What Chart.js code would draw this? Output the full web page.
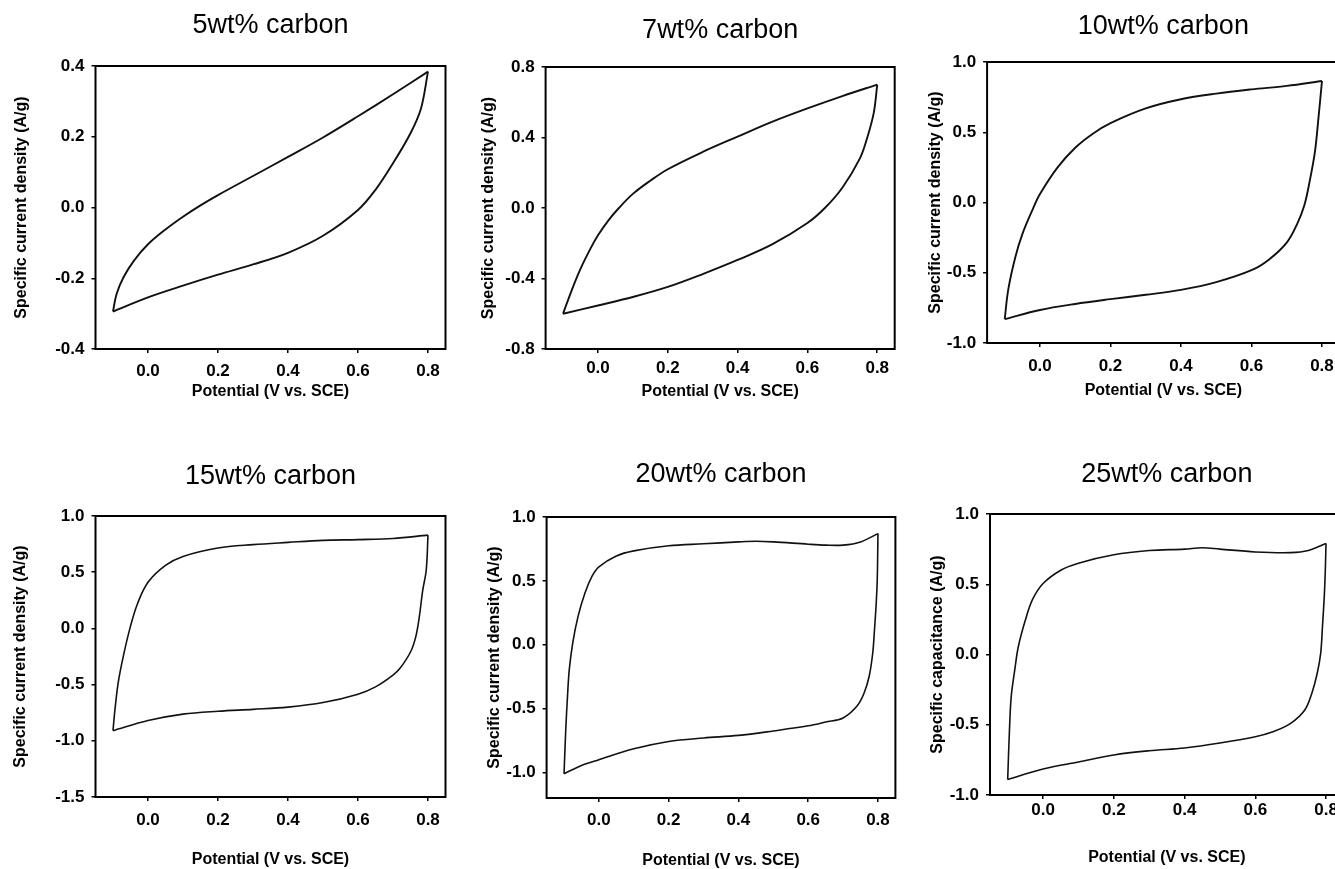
<!DOCTYPE html>
<html>
<head>
<meta charset="utf-8">
<script src="https://cdn.jsdelivr.net/npm/chart.js@4.4.1/dist/chart.umd.min.js"></script>
<style>
  html, body { margin: 0; padding: 0; background: #fff; }
  body { width: 1335px; height: 869px; position: relative; overflow: hidden; }
  canvas { position: absolute; }
</style>
</head>
<body>
<canvas id="c0" width="460" height="430"></canvas>
<canvas id="c1" width="460" height="430"></canvas>
<canvas id="c2" width="460" height="430"></canvas>
<canvas id="c3" width="460" height="439"></canvas>
<canvas id="c4" width="460" height="439"></canvas>
<canvas id="c5" width="460" height="439"></canvas>
<script>
// ---------- text ----------
const panelTitles = ["5wt% carbon", "7wt% carbon", "10wt% carbon", "15wt% carbon", "20wt% carbon", "25wt% carbon"];
const yAxisTitles = ["Specific current density (A/g)", "Specific current density (A/g)", "Specific current density (A/g)",
                     "Specific current density (A/g)", "Specific current density (A/g)", "Specific capacitance (A/g)"];
const xAxisTitle = "Potential (V vs. SCE)";

// ---------- tick labels ----------
const xTicks = [0.0, 0.2, 0.4, 0.6, 0.8];
const yTicks5  = [-0.4, -0.2, 0.0, 0.2, 0.4];
const yTicks7  = [-0.8, -0.4, 0.0, 0.4, 0.8];
const yTicks10 = [-1.0, -0.5, 0.0, 0.5, 1.0];
const yTicks15 = [-1.5, -1.0, -0.5, 0.0, 0.5, 1.0];
const yTicks20 = [-1.0, -0.5, 0.0, 0.5, 1.0];
const yTicks25 = [-1.0, -0.5, 0.0, 0.5, 1.0];
const xRange = [-0.15, 0.85];
const yRanges = [[-0.4, 0.4], [-0.8, 0.8], [-1.0, 1.0], [-1.5, 1.0], [-1.2, 1.0], [-1.0, 1.0]];

// ---------- data: anodic (upper) and cathodic (lower) branches, potential (V) / current (A/g) ----------
// 5 wt%
const upV5 = [-0.1, -0.09, -0.07, -0.04, 0, 0.05, 0.1, 0.15, 0.2, 0.3, 0.4, 0.5, 0.6, 0.7, 0.8];
const upI5 = [-0.294, -0.245, -0.197, -0.150, -0.104, -0.062, -0.026, 0.006, 0.035, 0.089, 0.143, 0.198, 0.258, 0.320, 0.384];
const dnV5 = [-0.1, 0, 0.1, 0.2, 0.3, 0.4, 0.5, 0.6, 0.65, 0.7, 0.75, 0.78, 0.8];
const dnI5 = [-0.294, -0.254, -0.221, -0.190, -0.161, -0.128, -0.080, -0.007, 0.050, 0.125, 0.210, 0.280, 0.384];
// 7 wt%
const upV7 = [-0.1, -0.09, -0.07, -0.05, -0.02, 0, 0.03, 0.06, 0.1, 0.15, 0.2, 0.3, 0.4, 0.5, 0.6, 0.7, 0.8];
const upI7 = [-0.60, -0.545, -0.44, -0.345, -0.225, -0.155, -0.07, 0.0, 0.08, 0.155, 0.22, 0.318, 0.405, 0.49, 0.565, 0.635, 0.70];
const dnV7 = [-0.1, 0, 0.1, 0.2, 0.3, 0.4, 0.5, 0.6, 0.65, 0.7, 0.75, 0.77, 0.79, 0.8];
const dnI7 = [-0.60, -0.553, -0.505, -0.448, -0.375, -0.295, -0.205, -0.085, 0.0, 0.115, 0.28, 0.39, 0.54, 0.70];
// 10 wt%
const upV10 = [-0.1, -0.09, -0.07, -0.05, -0.02, 0, 0.05, 0.1, 0.15, 0.2, 0.3, 0.4, 0.5, 0.6, 0.7, 0.8];
const upI10 = [-0.83, -0.62, -0.39, -0.225, -0.045, 0.06, 0.25, 0.39, 0.49, 0.565, 0.67, 0.735, 0.775, 0.805, 0.83, 0.865];
const dnV10 = [-0.1, 0, 0.1, 0.2, 0.3, 0.4, 0.5, 0.6, 0.65, 0.7, 0.73, 0.75, 0.765, 0.78, 0.79, 0.8];
const dnI10 = [-0.83, -0.765, -0.722, -0.688, -0.657, -0.622, -0.567, -0.482, -0.405, -0.285, -0.15, -0.02, 0.15, 0.36, 0.60, 0.865];
// 15 wt%
const upV15 = [-0.1, -0.095, -0.085, -0.07, -0.05, -0.03, 0, 0.05, 0.1, 0.2, 0.3, 0.4, 0.5, 0.6, 0.7, 0.8];
const upI15 = [-0.91, -0.74, -0.48, -0.24, 0.02, 0.22, 0.41, 0.56, 0.64, 0.715, 0.745, 0.765, 0.783, 0.79, 0.80, 0.83];
const dnV15 = [-0.1, 0, 0.1, 0.2, 0.3, 0.4, 0.5, 0.6, 0.65, 0.7, 0.72, 0.75, 0.765, 0.775, 0.785, 0.795, 0.8];
const dnI15 = [-0.91, -0.82, -0.763, -0.737, -0.72, -0.70, -0.66, -0.585, -0.52, -0.415, -0.355, -0.21, -0.075, 0.10, 0.34, 0.52, 0.83];
// 20 wt%
const upV20 = [-0.1, -0.095, -0.09, -0.085, -0.075, -0.06, -0.04, -0.02, 0, 0.05, 0.1, 0.2, 0.3, 0.4, 0.45, 0.5, 0.6, 0.65, 0.7, 0.75, 0.8];
const upI20 = [-1.01, -0.66, -0.40, -0.195, 0.015, 0.22, 0.405, 0.535, 0.61, 0.695, 0.735, 0.775, 0.79, 0.805, 0.81, 0.805, 0.787, 0.78, 0.78, 0.805, 0.87];
const dnV20 = [-0.1, -0.05, 0, 0.1, 0.2, 0.3, 0.4, 0.5, 0.6, 0.65, 0.7, 0.74, 0.76, 0.775, 0.785, 0.79, 0.795, 0.798, 0.8];
const dnI20 = [-1.01, -0.945, -0.90, -0.815, -0.757, -0.73, -0.71, -0.675, -0.635, -0.605, -0.573, -0.48, -0.38, -0.245, -0.065, 0.115, 0.325, 0.51, 0.87];
// 25 wt%
const upV25 = [-0.1, -0.095, -0.09, -0.08, -0.07, -0.05, -0.03, 0, 0.05, 0.1, 0.2, 0.3, 0.4, 0.45, 0.5, 0.6, 0.7, 0.75, 0.8];
const upI25 = [-0.89, -0.54, -0.30, -0.11, 0.055, 0.245, 0.39, 0.505, 0.60, 0.65, 0.71, 0.74, 0.75, 0.76, 0.75, 0.73, 0.725, 0.74, 0.79];
const dnV25 = [-0.1, 0, 0.1, 0.2, 0.3, 0.4, 0.5, 0.6, 0.65, 0.7, 0.74, 0.76, 0.775, 0.785, 0.79, 0.795, 0.798, 0.8];
const dnI25 = [-0.89, -0.815, -0.765, -0.715, -0.685, -0.665, -0.63, -0.585, -0.55, -0.49, -0.395, -0.275, -0.135, 0.01, 0.20, 0.41, 0.60, 0.79];

const series = [
  {up: [upV5, upI5],   dn: [dnV5, dnI5],   yTicks: yTicks5},
  {up: [upV7, upI7],   dn: [dnV7, dnI7],   yTicks: yTicks7},
  {up: [upV10, upI10], dn: [dnV10, dnI10], yTicks: yTicks10},
  {up: [upV15, upI15], dn: [dnV15, dnI15], yTicks: yTicks15},
  {up: [upV20, upI20], dn: [dnV20, dnI20], yTicks: yTicks20},
  {up: [upV25, upI25], dn: [dnV25, dnI25], yTicks: yTicks25}
];

// ---------- layout (pixels) ----------
const layoutSpec = [
  {left: 0,   top: 0,   yW: 95.5,  padR: 14.5, xH: 81, tPT: 9.6,  tPB: 24,   yTP: 13.5, xTPB: 30,  xTickPad: 8.2, lw: 1.9},
  {left: 445, top: 0,   yW: 100.6, padR: 10.3, xH: 81, tPT: 14.1, tPB: 20.5, yTP: 35.5, xTPB: 30,  xTickPad: 5.2, lw: 1.9},
  {left: 890, top: 0,   yW: 97.1,  padR: 10.4, xH: 87, tPT: 10,   tPB: 19.6, yTP: 37.2, xTPB: 31,  xTickPad: 9.4, lw: 1.9},
  {left: 0,   top: 430, yW: 95.5,  padR: 14.5, xH: 72, tPT: 30.5, tPB: 23.1, yTP: 13,   xTPB: 1.5, xTickPad: 8.7, lw: 1.6},
  {left: 445, top: 430, yW: 101.6, padR: 9.6,  xH: 71, tPT: 28,   tPB: 26.6, yTP: 41.3, xTPB: 0.5, xTickPad: 7.7, lw: 1.6},
  {left: 890, top: 430, yW: 100,   padR: 6.3,  xH: 74, tPT: 28.3, tPB: 23.3, yTP: 39.5, xTPB: 3.5, xTickPad: 0.7, lw: 1.6}
];

const FONT = "'Liberation Sans', Arial, Helvetica, sans-serif";

const framePlugin = {
  id: 'frame',
  afterDatasetsDraw(chart) {
    const {ctx, chartArea: a} = chart;
    ctx.save();
    ctx.strokeStyle = '#000';
    ctx.lineWidth = 2;
    ctx.strokeRect(a.left, a.top, a.right - a.left, a.bottom - a.top);
    ctx.restore();
  }
};

function toPoints(vs, is) { return vs.map((v, k) => ({x: v, y: is[k]})); }

series.forEach((s, i) => {
  const L = layoutSpec[i];
  const cv = document.getElementById('c' + i);
  cv.style.left = L.left + 'px';
  cv.style.top = L.top + 'px';
  const lineStyle = {
    borderColor: '#111', borderWidth: L.lw, pointRadius: 0, fill: false,
    tension: 0.35
  };
  new Chart(cv, {
    type: 'line',
    data: {
      datasets: [
        Object.assign({label: 'anodic', data: toPoints(s.up[0], s.up[1])}, lineStyle),
        Object.assign({label: 'cathodic', data: toPoints(s.dn[0], s.dn[1])}, lineStyle)
      ]
    },
    options: {
      responsive: false,
      animation: false,
      devicePixelRatio: 1,
      layout: {padding: {top: 0, right: L.padR, bottom: 0, left: 0}},
      plugins: {
        legend: {display: false},
        tooltip: {enabled: false},
        title: {
          display: true, text: panelTitles[i], fullSize: false, color: '#000',
          font: {family: FONT, size: 27, weight: 'normal', lineHeight: 1.2},
          padding: {top: L.tPT, bottom: L.tPB}
        }
      },
      scales: {
        x: {
          type: 'linear', min: xRange[0], max: xRange[1],
          afterBuildTicks: sc => { sc.ticks = xTicks.map(v => ({value: v})); },
          afterFit: sc => { sc.height = L.xH; },
          ticks: {
            color: '#000', padding: L.xTickPad, maxRotation: 0, autoSkip: false,
            font: {family: FONT, size: 17, weight: 'bold'},
            callback: v => Number(v).toFixed(1)
          },
          grid: {display: true, drawOnChartArea: false, drawTicks: true, tickLength: 4, color: '#000', lineWidth: 1.5},
          border: {display: false},
          title: {
            display: true, text: xAxisTitle, color: '#000',
            font: {family: FONT, size: 16, weight: 'bold', lineHeight: 1},
            padding: {top: 0, bottom: L.xTPB}
          }
        },
        y: {
          type: 'linear', min: yRanges[i][0], max: yRanges[i][1],
          afterBuildTicks: sc => { sc.ticks = s.yTicks.map(v => ({value: v})); },
          afterFit: sc => { sc.width = L.yW; },
          ticks: {
            color: '#000', padding: 7, autoSkip: false,
            font: {family: FONT, size: 17, weight: 'bold'},
            callback: v => Number(v).toFixed(1)
          },
          grid: {display: true, drawOnChartArea: false, drawTicks: true, tickLength: 4, color: '#000', lineWidth: 1.5},
          border: {display: false},
          title: {
            display: true, text: yAxisTitles[i], color: '#000',
            font: {family: FONT, size: 16, weight: 'bold', lineHeight: 1},
            padding: {top: L.yTP, bottom: 0}
          }
        }
      }
    },
    plugins: [framePlugin]
  });
});
</script>
</body>
</html>
